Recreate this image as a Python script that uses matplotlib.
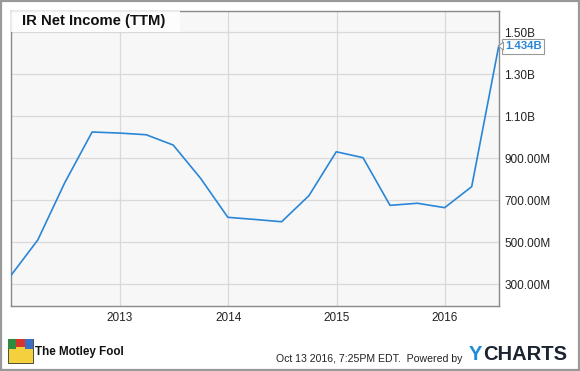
import numpy as np
import pandas as pd
import matplotlib
matplotlib.use("Agg")
from matplotlib import pyplot as plt
from matplotlib.patches import Rectangle, Polygon

plt.rcParams['font.family'] = ['Liberation Sans', 'DejaVu Sans']

# quarterly TTM net income (millions USD)
quarters = ['2011-12-31', '2012-03-31', '2012-06-30', '2012-09-30', '2012-12-31',
            '2013-03-31', '2013-06-30', '2013-09-30', '2013-12-31', '2014-03-31',
            '2014-06-30', '2014-09-30', '2014-12-31', '2015-03-31', '2015-06-30',
            '2015-09-30', '2015-12-31', '2016-03-31', '2016-06-30']
net_income = [341, 511, 784, 1025, 1020, 1012, 963, 805, 619, 609,
              598, 722, 931, 903, 676, 686, 665, 765, 1434]
y_ticks = [300, 500, 700, 900, 1100, 1300, 1500]
y_labels = ['300.00M', '500.00M', '700.00M', '900.00M', '1.10B', '1.30B', '1.50B']
x_ticks = ['2013-01-01', '2014-01-01', '2015-01-01', '2016-01-01']
x_labels = ['2013', '2014', '2015', '2016']
last_label = '1.434B'

dates = pd.to_datetime(quarters)

fig = plt.figure(figsize=(5.8, 3.71), dpi=100)
ax = fig.add_axes([0.0185, 0.1752, 0.8424, 0.7952])
ax.set_facecolor('#f7f7f7')

ax.plot(dates, net_income, color='#2a86d6', lw=1.2, solid_joinstyle='round', zorder=3)

ax.set_xlim(dates[0], dates[-1] + pd.Timedelta(days=2))
ax.set_ylim(197, 1601)

ax.set_yticks(y_ticks)
ax.set_yticklabels(y_labels)
ax.set_xticks(pd.to_datetime(x_ticks))
ax.set_xticklabels(x_labels)
ax.yaxis.tick_right()
ax.tick_params(axis='y', length=0, pad=3.4, labelsize=8.5, labelcolor='#222222')
ax.tick_params(axis='x', length=0, pad=4.5, labelsize=8.5, labelcolor='#222222')

ax.grid(True, color='#d9d9d9', lw=0.9, zorder=0)
for s in ax.spines.values():
    s.set_color('#8a8a8a')
    s.set_linewidth(1.0)

# title box
ax.add_patch(Rectangle((0, 0.9285), 0.347, 0.0715, transform=ax.transAxes,
                       fc='white', ec='none', alpha=0.85, zorder=4))
ax.text(0.023, 0.9645, 'IR Net Income (TTM)', transform=ax.transAxes,
        fontsize=10.7, fontweight='bold', color='#111111', va='center', ha='left', zorder=5)

# last value label
W, H = 580.0, 371.0
yv = 284.3 - (net_income[-1] - 300) / 200 * 42
fig.text(505 / W, 1 - yv / H, last_label, fontsize=8.2, fontweight='bold', color='#2a86d6',
         va='center', ha='left',
         bbox=dict(boxstyle='square,pad=0.22', fc='white', ec='#999999', lw=0.8))
fig.patches.append(Polygon([(498.5 / W, 1 - yv / H), (503.5 / W, 1 - (yv - 4) / H),
                            (503.5 / W, 1 - (yv + 4) / H)], closed=True,
                           transform=fig.transFigure, fc='white', ec='#999999', lw=0.8,
                           zorder=5))

# outer border
fig.patches.append(Rectangle((0.002, 0.003), 0.996, 0.994, transform=fig.transFigure,
                             fill=False, ec='#999999', lw=1.6))

# Motley Fool logo (rough jester icon) and text
lx, ly = 8 / W, 1 - 363 / H
fig.patches.append(Rectangle((lx, ly), 25 / W, 24 / H, transform=fig.transFigure,
                             fc='#f4d03f', ec='#333333', lw=0.6))
fig.patches.append(Rectangle((lx, ly + 14 / H), 8 / W, 10 / H, transform=fig.transFigure,
                             fc='#2e8b3e', ec='none'))
fig.patches.append(Rectangle((lx + 8 / W, ly + 16 / H), 9 / W, 8 / H, transform=fig.transFigure,
                             fc='#d8342c', ec='none'))
fig.patches.append(Rectangle((lx + 17 / W, ly + 14 / H), 8 / W, 10 / H, transform=fig.transFigure,
                             fc='#3a6fc4', ec='none'))
fig.text(35 / W, 1 - 352 / H, 'The Motley Fool', fontsize=8.4, fontweight='bold',
         color='#111111', va='center', ha='left',
         family=['Liberation Sans Narrow', 'Liberation Sans', 'DejaVu Sans'])

fig.text(276 / W, 1 - 359 / H, 'Oct 13 2016, 7:25PM EDT.  Powered by', fontsize=7.6,
         color='#222222', va='center', ha='left')
fig.text(469 / W, 1 - 355 / H, 'Y', fontsize=14.5, fontweight='bold', color='#1a8cd8',
         va='center', ha='left')
fig.text(483 / W, 1 - 355 / H, 'CHARTS', fontsize=14.5, fontweight='bold', color='#1c2430',
         va='center', ha='left')

fig.savefig('out.png', dpi=100)
